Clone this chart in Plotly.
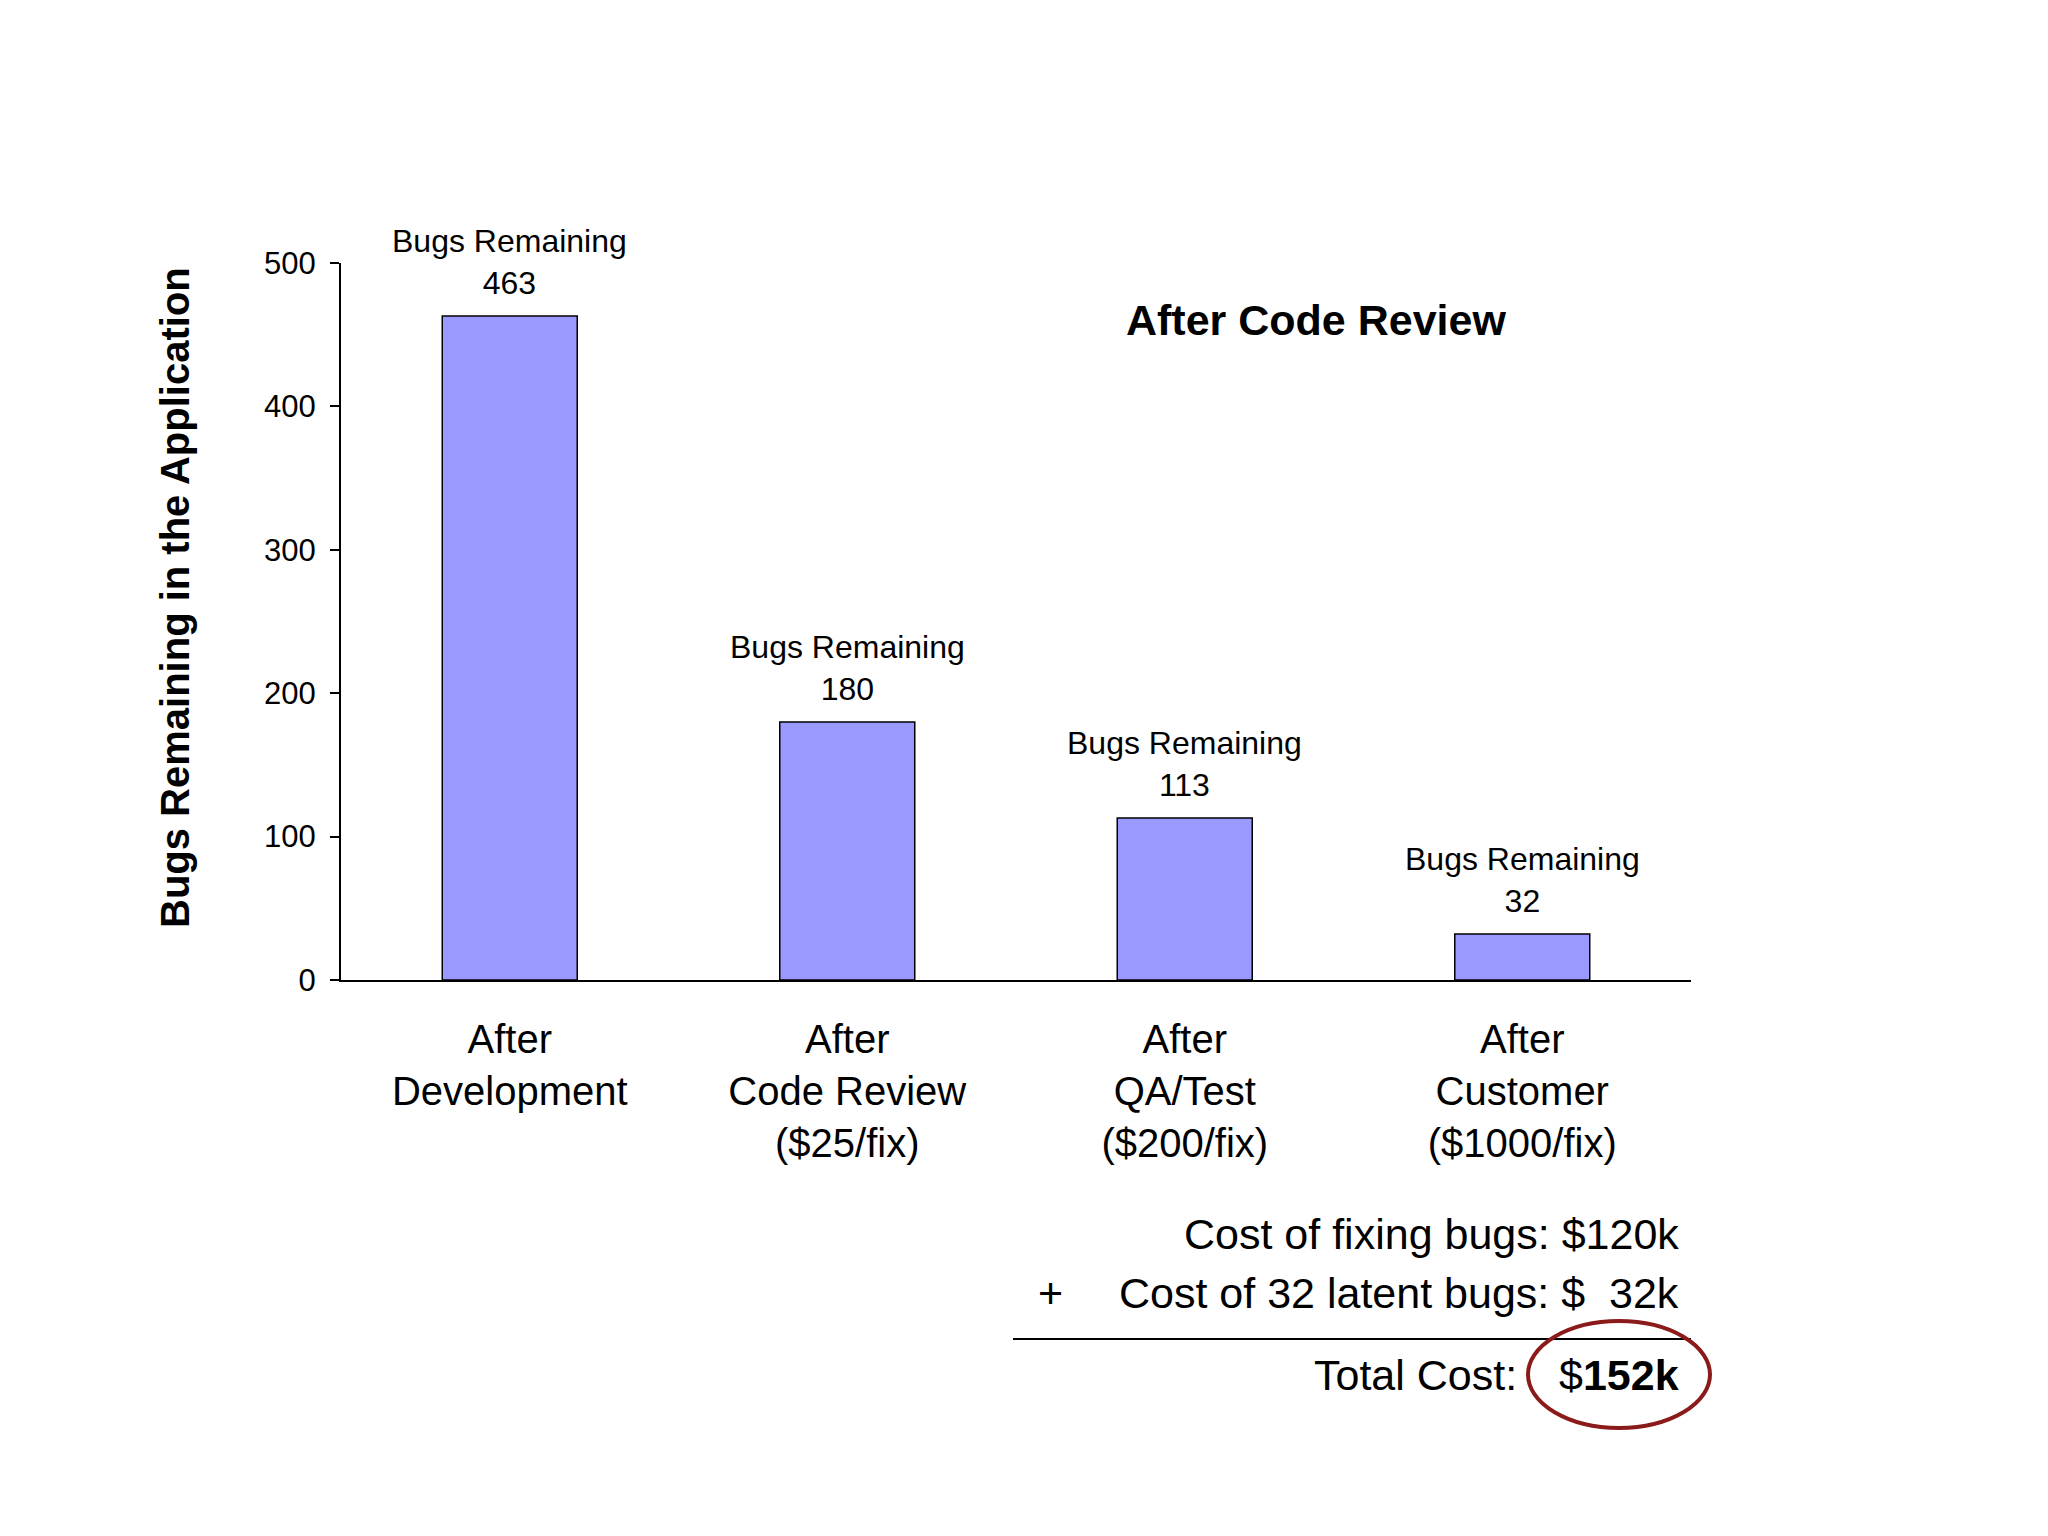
import plotly.graph_objects as go

categories = ["After<br>Development", "After<br>Code Review<br>($25/fix)",
              "After<br>QA/Test<br>($200/fix)", "After<br>Customer<br>($1000/fix)"]
bugs_remaining = [463, 180, 113, 32]
y_ticks = [0, 100, 200, 300, 400, 500]
chart_title = "After Code Review"
y_title = "Bugs Remaining in the Application"
cost_fixing = "Cost of fixing bugs: $120k"
cost_latent = "Cost of 32 latent bugs: $\u00a0\u00a032k"
total_label = "Total Cost:"
total_value = "$<b>152k</b>"

FONT = "Liberation Sans, Arial, sans-serif"

OFF = 8  # page body margin
W, H = 2048, 1536
PLOT_L, PLOT_R, PLOT_T, PLOT_B = 341, 1691, 263, 980  # in screen pixels
L = PLOT_L - OFF
T = PLOT_T - OFF
R = W - (PLOT_R - OFF)
B = H - (PLOT_B - OFF)
PW, PH = PLOT_R - PLOT_L, PLOT_B - PLOT_T


def px(x):
    return (x - PLOT_L) / PW


def py(y):
    return (PLOT_B - y) / PH


fig = go.Figure()
fig.add_trace(go.Bar(
    x=categories, y=bugs_remaining,
    marker=dict(color="#9999FF", line=dict(color="black", width=1.5)),
    hoverinfo="skip",
))

annotations = []
for c, v in zip(categories, bugs_remaining):
    annotations.append(dict(
        x=c, y=v, xref="x", yref="y", text=f"Bugs Remaining<br>{v}",
        showarrow=False, yanchor="bottom", yshift=13,
        font=dict(family=FONT, size=32, color="black"),
    ))

annotations.append(dict(
    x=px(1316), y=py(320), xref="paper", yref="paper", text=f"<b>{chart_title}</b>",
    showarrow=False, xanchor="center", yanchor="middle",
    font=dict(family=FONT, size=43, color="black"),
))
annotations.append(dict(
    x=px(175), y=py(598), xref="paper", yref="paper", text=f"<b>{y_title}</b>",
    showarrow=False, xanchor="center", yanchor="middle", textangle=-90,
    font=dict(family=FONT, size=40, color="black"),
))
annotations.append(dict(
    x=px(1681), y=py(1234), xref="paper", yref="paper", text=cost_fixing,
    showarrow=False, xanchor="right", yanchor="middle",
    font=dict(family=FONT, size=43, color="black"),
))
annotations.append(dict(
    x=px(1681), y=py(1293), xref="paper", yref="paper", text=cost_latent,
    showarrow=False, xanchor="right", yanchor="middle",
    font=dict(family=FONT, size=43, color="black"),
))
annotations.append(dict(
    x=px(1050), y=py(1293), xref="paper", yref="paper", text="+",
    showarrow=False, xanchor="center", yanchor="middle",
    font=dict(family=FONT, size=43, color="black"),
))
annotations.append(dict(
    x=px(1519), y=py(1375), xref="paper", yref="paper", text=total_label,
    showarrow=False, xanchor="right", yanchor="middle",
    font=dict(family=FONT, size=43, color="black"),
))
annotations.append(dict(
    x=px(1681), y=py(1375), xref="paper", yref="paper", text=total_value,
    showarrow=False, xanchor="right", yanchor="middle",
    font=dict(family=FONT, size=43, color="black"),
))

shapes = [
    dict(type="line", xref="paper", yref="paper", x0=px(1013), x1=px(1691),
         y0=py(1339), y1=py(1339), line=dict(color="black", width=2)),
    dict(type="circle", xref="paper", yref="paper", x0=px(1528), x1=px(1710),
         y0=py(1321), y1=py(1428), line=dict(color="#8B1A1A", width=4)),
    dict(type="line", xref="paper", yref="paper", x0=px(331), x1=0,
         y0=0, y1=0, line=dict(color="black", width=2)),
]

fig.update_layout(
    width=W, height=H,
    margin=dict(l=L, r=R, t=T, b=B, pad=0),
    paper_bgcolor="white", plot_bgcolor="white",
    showlegend=False, bargap=0.6,
    font=dict(family=FONT, color="black"),
    annotations=annotations, shapes=shapes,
    xaxis=dict(
        showline=True, linecolor="black", linewidth=2, ticks="",
        showgrid=False, tickfont=dict(family=FONT, size=40, color="black"),
        ticklabelstandoff=23,
    ),
    yaxis=dict(
        range=[0, 500], tickvals=y_ticks, showline=True, linecolor="black",
        linewidth=2, ticks="outside", ticklen=9, tickwidth=1.5, tickcolor="black",
        showgrid=False, zeroline=False,
        tickfont=dict(family=FONT, size=31, color="black"),
        ticklabelstandoff=8,
    ),
)

fig.write_html("out.html")
